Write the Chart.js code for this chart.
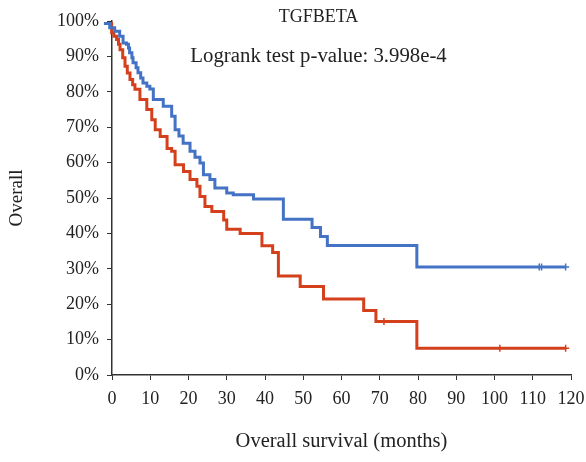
<!DOCTYPE html>
<html>
<head>
<meta charset="utf-8">
<script src="https://cdn.jsdelivr.net/npm/chart.js@4"></script>
<style>
  html, body { margin: 0; padding: 0; background: #fff; }
  #wrap { width: 586px; height: 462px; }
</style>
</head>
<body>
<div id="wrap"><canvas id="kmChart" width="586" height="462"></canvas></div>
<script>
// Kaplan-Meier steps: [months, survival %] after each drop
const altoTiempos = [-2.1, -0.6, 0.7, 2.0, 2.9, 3.8, 4.3, 4.6, 5.2, 5.5, 6.3, 6.8, 7.5, 8.1, 9.1, 9.9, 10.8, 13.4, 15.6, 16.5, 17.5, 18.6, 20.4, 21.7, 23.0, 23.9, 25.6, 26.9, 30.0, 31.7, 37.0, 44.8, 52.3, 54.5, 56.3, 79.7, 118.6];
const altoSuperv = [99.3, 98.1, 97.1, 95.7, 93.8, 93.4, 92.4, 91.0, 89.6, 88.2, 86.8, 85.4, 83.9, 82.5, 81.6, 80.8, 77.8, 75.9, 73.1, 69.3, 67.5, 65.5, 63.2, 61.5, 59.9, 56.6, 55.2, 52.8, 51.4, 50.9, 49.7, 44.0, 41.7, 39.1, 36.6, 30.5, 30.5];

const bajoTiempos = [-2.1, -0.1, 0.5, 1.2, 1.7, 2.1, 2.8, 3.4, 4.0, 4.7, 5.4, 6.0, 7.3, 9.1, 10.4, 11.3, 12.6, 14.4, 15.6, 16.5, 18.7, 20.4, 22.2, 23.0, 24.3, 26.1, 29.2, 30.0, 33.5, 39.2, 42.0, 43.5, 49.2, 55.3, 65.8, 69.0, 79.7, 118.6];
const bajoSuperv = [99.3, 96.7, 95.7, 94.8, 93.4, 91.9, 89.6, 87.2, 85.3, 83.5, 82.0, 80.7, 77.8, 75.0, 72.1, 69.3, 67.4, 64.0, 63.2, 59.4, 57.5, 55.2, 53.3, 50.4, 47.6, 46.2, 43.8, 41.2, 40.0, 36.5, 34.6, 28.0, 25.0, 21.5, 18.2, 15.1, 7.55, 7.55];

// Censored observations
const altoCensurados = [[111.7, 30.5], [112.3, 30.5], [118.6, 30.5]];
const bajoCensurados = [[71.1, 15.1], [101.4, 7.55], [118.6, 7.55]];

const xTicks = [0, 10, 20, 30, 40, 50, 60, 70, 80, 90, 100, 110, 120];
const yTicks = [0, 10, 20, 30, 40, 50, 60, 70, 80, 90, 100];

const titulo = 'TGFBETA';
const subtitulo = 'Logrank test p-value: 3.998e-4';

const AZUL = '#4472C4';
const ROJO = '#D4401C';
const FUENTE = "'Liberation Serif', 'DejaVu Serif', serif";

function aPuntos(xs, ys) {
    return xs.map((x, i) => ({ x: x, y: ys[i] }));
}

// Texts inside the plot area
const textosPlugin = {
    id: 'textos',
    afterDraw(chart) {
        const { ctx, scales } = chart;
        ctx.save();
        ctx.fillStyle = '#222';
        ctx.textAlign = 'center';
        ctx.textBaseline = 'middle';
        const cx = scales.x.getPixelForValue(54);
        ctx.font = '18px ' + FUENTE;
        ctx.fillText(titulo, cx, 17);
        ctx.font = '20.8px ' + FUENTE;
        ctx.fillText(subtitulo, cx, 57);
        ctx.restore();
    }
};

const ctx = document.getElementById('kmChart').getContext('2d');
new Chart(ctx, {
    type: 'line',
    data: {
        datasets: [{
            data: aPuntos(altoTiempos, altoSuperv),
            borderColor: AZUL,
            borderWidth: 3,
            stepped: true,
            pointRadius: 0,
            clip: false
        }, {
            data: aPuntos(bajoTiempos, bajoSuperv),
            borderColor: ROJO,
            borderWidth: 3,
            stepped: true,
            pointRadius: 0,
            clip: false
        }, {
            type: 'scatter',
            data: altoCensurados.map(p => ({ x: p[0], y: p[1] })),
            pointStyle: 'cross',
            pointRadius: 3.5,
            pointBorderWidth: 1.5,
            borderColor: AZUL,
            clip: false
        }, {
            type: 'scatter',
            data: bajoCensurados.map(p => ({ x: p[0], y: p[1] })),
            pointStyle: 'cross',
            pointRadius: 3.5,
            pointBorderWidth: 1.5,
            borderColor: ROJO,
            clip: false
        }]
    },
    options: {
        responsive: false,
        animation: false,
        layout: { autoPadding: false, padding: { top: 21, right: 15, left: 0, bottom: 0 } },
        plugins: {
            legend: { display: false },
            tooltip: { enabled: false }
        },
        scales: {
            x: {
                type: 'linear',
                bounds: 'data',
                // range set after the data limits so the first step (before 0) is still drawn
                afterDataLimits: s => { s.min = 0; s.max = 120; },
                afterBuildTicks: s => { s.ticks = xTicks.map(v => ({ value: v })); s.min = 0; s.max = 120; },
                afterFit: s => { s.height = 87; s.paddingLeft = 0; s.paddingRight = 0; },
                grid: { drawOnChartArea: false, drawTicks: true, tickLength: 5, color: '#333' },
                border: { display: true, color: '#333', width: 1.5 },
                ticks: { color: '#222', padding: 8, stepSize: 10, maxRotation: 0, font: { family: FUENTE, size: 18 } },
                title: {
                    display: true,
                    text: 'Overall survival (months)',
                    color: '#222',
                    padding: { top: 0, bottom: 8 },
                    font: { family: FUENTE, size: 20.5 }
                }
            },
            y: {
                type: 'linear',
                min: 0,
                max: 100,
                afterBuildTicks: s => { s.ticks = yTicks.map(v => ({ value: v })); },
                afterFit: s => { s.width = 112; s.paddingTop = 0; s.paddingBottom = 0; },
                grid: { drawOnChartArea: false, drawTicks: true, tickLength: 5, color: '#333' },
                border: { display: true, color: '#333', width: 1.5 },
                ticks: { color: '#222', padding: 8, callback: v => v + '%', font: { family: FUENTE, size: 18 } },
                title: {
                    display: true,
                    text: 'Overall',
                    color: '#222',
                    padding: { top: 6, bottom: 0 },
                    font: { family: FUENTE, size: 19 }
                }
            }
        }
    },
    plugins: [textosPlugin]
});
</script>
</body>
</html>
